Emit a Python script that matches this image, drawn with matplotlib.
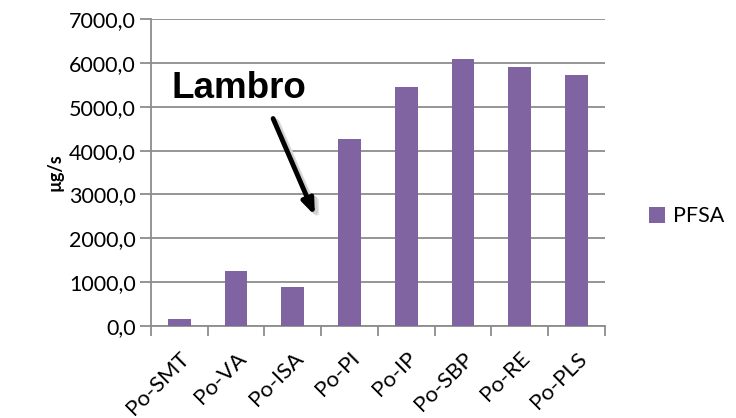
import matplotlib
matplotlib.use("Agg")
import matplotlib.pyplot as plt
import numpy as np

categories = ["Po-SMT", "Po-VA", "Po-ISA", "Po-PI", "Po-IP", "Po-SBP", "Po-RE", "Po-PLS"]
pfsa = [160, 1250, 890, 4270, 5460, 6080, 5905, 5725]
yticks = [0, 1000, 2000, 3000, 4000, 5000, 6000, 7000]
ytick_labels = ["0,0", "1000,0", "2000,0", "3000,0", "4000,0", "5000,0", "6000,0", "7000,0"]

plt.rcParams['font.family'] = ['Lato', 'DejaVu Sans']

fig = plt.figure(figsize=(7.36, 4.18), dpi=100)
ax = fig.add_axes([0.205, 0.220, 0.617, 0.7345])

x = np.arange(len(categories))
ax.bar(x, pfsa, width=0.4, color="#8064A2", label="PFSA", zorder=3)

ax.set_xlim(-0.5, len(categories) - 0.5)
ax.set_ylim(0, 7000)
ax.set_yticks(yticks)
ax.set_yticklabels(ytick_labels, fontsize=15.5)
ax.yaxis.grid(True, color="#8c8c8c", linewidth=1.3, zorder=0)
ax.tick_params(axis='y', length=8, color="#8c8c8c", width=1.3, pad=3)

ax.set_xticks(x)
ax.set_xticklabels(categories, rotation=45, ha='right', rotation_mode='anchor', fontsize=16)
ax.tick_params(axis='x', length=0, pad=16)
ax.set_xticks(np.arange(-0.5, len(categories)), minor=True)
ax.tick_params(axis='x', which='minor', length=7, color="#8c8c8c", width=1.3)

for s in ['top', 'right']:
    ax.spines[s].set_visible(False)
for s in ['left', 'bottom']:
    ax.spines[s].set_color("#8c8c8c")
    ax.spines[s].set_linewidth(1.3)

ax.set_ylabel("µg/s", fontsize=13, fontweight='bold', labelpad=4)

leg = ax.legend(loc='center left', bbox_to_anchor=(1.055, 0.357), frameon=False,
                fontsize=15.5, handlelength=0.75, handleheight=0.75, handletextpad=0.35)

fig.text(172/736, 1 - 88/418, "Lambro", fontsize=26.5, fontweight='bold',
         family='Liberation Sans', va='center', ha='left')

# arrow with soft shadow
for dx, dy, c in [(0.006, -0.009, '#e4e4e4'), (0.004, -0.006, '#cfcfcf')]:
    ax.annotate("", xy=(316/736 + dx, 1 - 218/418 + dy), xytext=(272/736 + dx, 1 - 116/418 + dy),
                xycoords='figure fraction', textcoords='figure fraction',
                arrowprops=dict(arrowstyle='-|>,head_length=0.9,head_width=0.35', color=c, lw=3.5))
ax.annotate("", xy=(316/736, 1 - 218/418), xytext=(272/736, 1 - 116/418),
            xycoords='figure fraction', textcoords='figure fraction',
            arrowprops=dict(arrowstyle='-|>,head_length=0.9,head_width=0.35', color='black', lw=3.5))

fig.savefig("out.png", dpi=100)
